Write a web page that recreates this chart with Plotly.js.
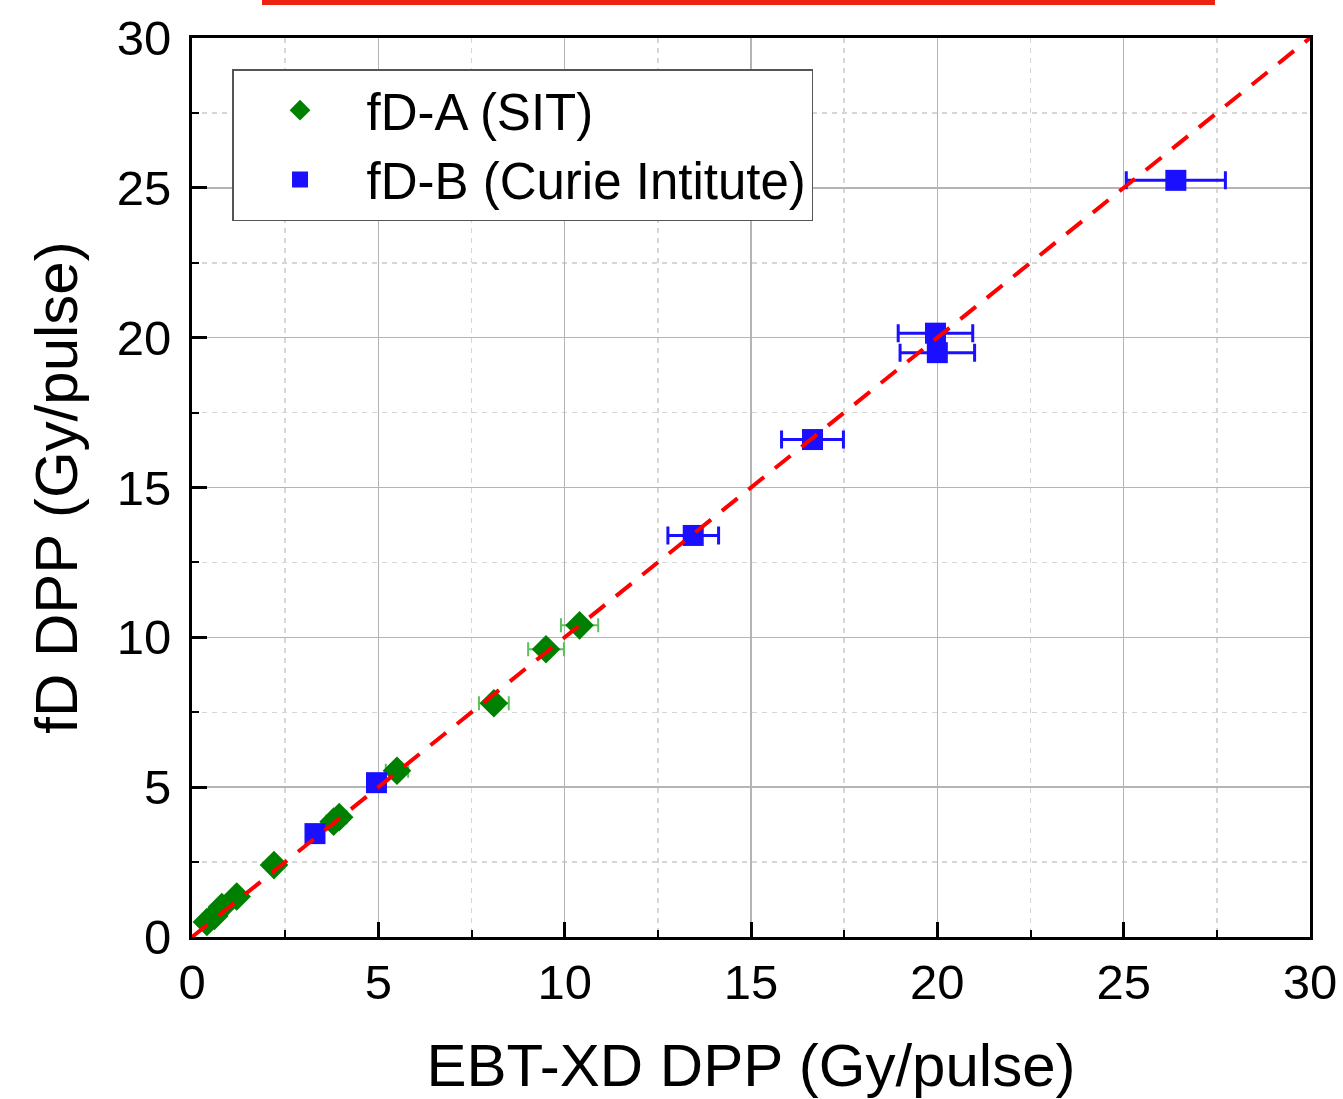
<!DOCTYPE html>
<html>
<head>
<meta charset="utf-8">
<script src="https://cdn.plot.ly/plotly-3.0.1.min.js"></script>
<style>
  html, body { margin: 0; padding: 0; background: #ffffff; }
  #chart { width: 1343px; height: 1099px; }
</style>
</head>
<body>
<div id="chart"></div>
<script>
// fD-A (SIT) series
const sitX = [0.4, 0.6, 0.8, 1.2, 2.2, 3.8, 3.95, 5.5, 8.1, 9.5, 10.4];
const sitY = [0.5, 0.7, 1.0, 1.35, 2.4, 3.85, 4.0, 5.55, 7.8, 9.6, 10.4];
const sitErrX = [0.05, 0.05, 0.05, 0.1, 0.15, 0.2, 0.2, 0.3, 0.4, 0.48, 0.5];

// fD-B (Curie Intitute) series
const curieX = [3.3, 4.95, 13.45, 16.65, 19.95, 20.0, 26.4];
const curieY = [3.45, 5.15, 13.4, 16.6, 20.15, 19.5, 25.25];
const curieErrX = [0.1, 0.15, 0.68, 0.83, 1.0, 1.0, 1.33];

// identity reference line
const lineX = [0, 30];
const lineY = [0, 30];

// labels
const seriesNames = ['fD-A (SIT)', 'fD-B (Curie Intitute)'];
const xTitle = 'EBT-XD DPP (Gy/pulse)';
const yTitle = 'fD DPP (Gy/pulse)';
const tickVals = [0, 5, 10, 15, 20, 25, 30];

const FONT = 'Liberation Sans, Arial, sans-serif';

const traces = [
  {
    type: 'scatter', mode: 'markers', name: seriesNames[0],
    x: sitX, y: sitY,
    marker: { symbol: 'diamond', size: 22, color: '#008000' },
    error_x: { type: 'data', array: sitErrX, visible: true, color: '#5cc05c', thickness: 2, width: 7 }
  },
  {
    type: 'scatter', mode: 'markers', name: seriesNames[1],
    x: curieX, y: curieY,
    marker: { symbol: 'square', size: 21, color: '#1a10ff' },
    error_x: { type: 'data', array: curieErrX, visible: true, color: '#1a10ff', thickness: 3, width: 9 }
  },
  {
    type: 'scatter', mode: 'lines', showlegend: false, hoverinfo: 'skip',
    x: lineX, y: lineY,
    line: { color: '#ff0000', width: 4, dash: '20px,14px' }
  }
];

const axisCommon = {
  range: [0, 30],
  tickvals: tickVals,
  ticktext: tickVals.map(String),
  ticks: 'inside', ticklen: 15, tickwidth: 3, tickcolor: '#000',
  showline: true, linewidth: 3, linecolor: '#000', mirror: true,
  showgrid: true, gridcolor: '#b4b4b4', gridwidth: 1.5,
  zeroline: false,
  tickfont: { family: FONT, size: 49, color: '#000' },
  minor: {
    dtick: 2.5, ticks: 'inside', ticklen: 7, tickwidth: 2, tickcolor: '#000',
    showgrid: true, gridcolor: '#d6d6d6', gridwidth: 1.5, griddash: '5px,5px'
  }
};

const layout = {
  width: 1343, height: 1099,
  margin: { l: 192, r: 33, t: 38, b: 162 },
  paper_bgcolor: '#ffffff', plot_bgcolor: '#ffffff',
  font: { family: FONT, color: '#000' },
  showlegend: true,
  xaxis: Object.assign({}, axisCommon, {
    ticklabelstandoff: 0,
    title: { text: xTitle, font: { family: FONT, size: 60, color: '#000' }, standoff: 38 }
  }),
  yaxis: Object.assign({}, axisCommon, {
    ticklabelstandoff: 8,
    title: { text: yTitle, font: { family: FONT, size: 60, color: '#000' }, standoff: 20 }
  }),
  legend: {
    x: 0.0358, y: 0.9655, xanchor: 'left', yanchor: 'top',
    bgcolor: '#ffffff', bordercolor: '#555555', borderwidth: 1.5,
    font: { family: FONT, size: 51, color: '#000' },
    itemwidth: 123, tracegroupgap: 0
  },
  shapes: [
    { type: 'rect', xref: 'paper', yref: 'paper', x0: 0.0626, x1: 0.915, y0: 1.0367, y1: 1.0423,
      fillcolor: '#ee2211', line: { width: 0 } }
  ]
};

Plotly.newPlot('chart', traces, layout, { displayModeBar: false, staticPlot: true });
</script>
</body>
</html>
